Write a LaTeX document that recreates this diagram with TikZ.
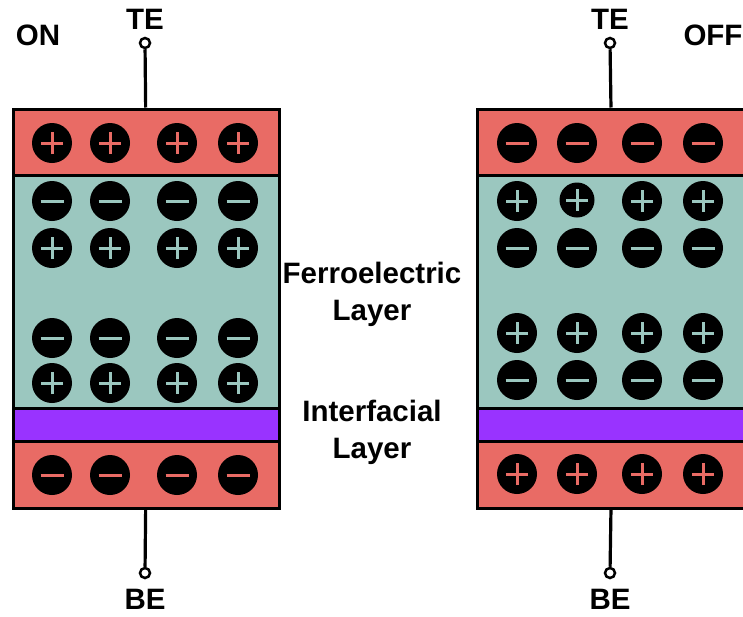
\documentclass[tikz,border=0pt]{standalone}
\usepackage{fontspec}
\setmainfont{Liberation Sans}

\definecolor{electrode}{HTML}{E96B65}
\definecolor{ferro}{HTML}{9BC7BF}
\definecolor{interfacial}{HTML}{9933FF}

\tikzset{
  layer/.style={draw=black, line width=3pt, rectangle, inner sep=0pt, minimum width=266pt},
  charge/.style={circle, fill=black, inner sep=0pt, minimum size=40pt},
  poscharge/.style={charge, path picture={
      \draw[#1, line width=3pt]
        ([xshift=-11pt]path picture bounding box.center) -- ([xshift=11pt]path picture bounding box.center)
        ([yshift=-11pt]path picture bounding box.center) -- ([yshift=11pt]path picture bounding box.center);}},
  negcharge/.style={charge, path picture={
      \draw[#1, line width=3pt]
        ([xshift=-11.5pt]path picture bounding box.center) -- ([xshift=11.5pt]path picture bounding box.center);}},
  terminal/.style={circle, draw=black, fill=white, line width=2.5pt, inner sep=0pt, minimum size=10pt},
  wire/.style={line width=3.2pt},
  tag/.style={font=\fontsize{29.5}{37}\selectfont\bfseries, align=center, inner sep=0pt}
}

\begin{document}
\begin{tikzpicture}[x=1pt, y=-1pt]
\clip (0,0) rectangle (743,616);

% ON device (left)
\node[layer, fill=electrode, minimum height=66pt] (onTop) at (146,142) {};
\node[layer, fill=ferro, minimum height=233pt] (onFerro) at (146,291.5) {};
\node[layer, fill=interfacial, minimum height=33pt] (onIL) at (146,424.5) {};
\node[layer, fill=electrode, minimum height=67pt] (onBot) at (146,474.5) {};

% OFF device (right, cut by the page edge)
\node[layer, fill=electrode, minimum width=269pt, minimum height=66pt] (offTop) at (611.5,142) {};
\node[layer, fill=ferro, minimum width=269pt, minimum height=233pt] (offFerro) at (611.5,291.5) {};
\node[layer, fill=interfacial, minimum width=269pt, minimum height=33pt] (offIL) at (611.5,424.5) {};
\node[layer, fill=electrode, minimum width=269pt, minimum height=67pt] (offBot) at (611.5,474.5) {};

% Charges, ON state
\foreach \x [count=\i] in {52,110,177,238} {
  \node[poscharge=electrode] (onTopQ\i) at (\x,143) {};
  \node[negcharge=ferro] (onFeA\i) at (\x,201) {};
  \node[poscharge=ferro] (onFeB\i) at (\x,248) {};
  \node[negcharge=ferro] (onFeC\i) at (\x,338) {};
  \node[poscharge=ferro] (onFeD\i) at (\x,383) {};
  \node[negcharge=electrode] (onBotQ\i) at (\x,475) {};
}

% Charges, OFF state
\foreach \x [count=\i] in {517,577,642,703} {
  \node[negcharge=electrode] (offTopQ\i) at (\x,143) {};
  \node[negcharge=ferro] (offFeB\i) at (\x,248) {};
  \node[poscharge=ferro] (offFeC\i) at (\x,333) {};
  \node[negcharge=ferro] (offFeD\i) at (\x,380) {};
  \node[poscharge=electrode] (offBotQ\i) at (\x,474) {};
}
\node[poscharge=ferro] (offFeA1) at (517,201) {};
\node[poscharge=ferro, minimum size=35pt] (offFeA2) at (577,200) {};
\node[poscharge=ferro] (offFeA3) at (642,201) {};
\node[poscharge=ferro] (offFeA4) at (703,201) {};

% Terminals
\node[terminal] (onTE) at (145,43) {};
\node[terminal] (onBE) at (145,573) {};
\node[terminal] (offTE) at (610,43) {};
\node[terminal] (offBE) at (610,573) {};
\draw[wire] (onTE) -- (onTop);
\draw[wire] (onBE) -- (onBot);
\draw[wire] (offTE) -- (offTop);
\draw[wire] (offBE) -- (offBot);

% Labels
\node[tag] (onTElabel) at (145,19) {TE};
\node[tag] (onBElabel) at (145,599) {BE};
\node[tag] (offTElabel) at (610,19) {TE};
\node[tag] (offBElabel) at (610,599) {BE};
\node[tag] (onlabel) at (38,35) {ON};
\node[tag] (offlabel) at (713,35) {OFF};
\node[tag] (ferrolabel) at (372,294) {Ferroelectric\\Layer};
\node[tag] (illabel) at (372,432) {Interfacial\\Layer};

\end{tikzpicture}
\end{document}
